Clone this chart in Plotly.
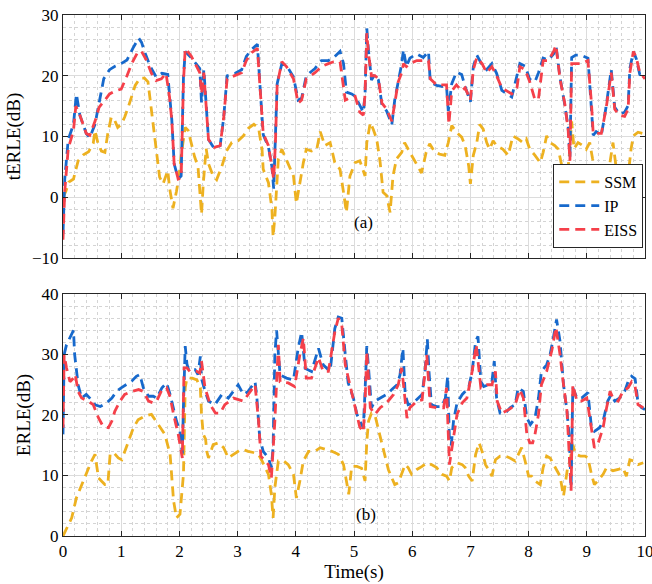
import plotly.graph_objects as go

# ---------------- data: top panel (tERLE) ----------------
t_ip_t = [0,0.03,0.09,0.18,0.23,0.29,0.4,0.46,0.55,0.64,0.7,0.8,0.9,1.0,1.1,1.2,1.3,1.35,1.4,1.5,1.6,1.7,1.8,1.87,1.91,1.98,2.03,2.07,2.1,2.2,2.3,2.35,2.38,2.42,2.5,2.6,2.7,2.76,2.82,2.96,3.07,3.15,3.24,3.34,3.38,3.44,3.53,3.59,3.62,3.65,3.68,3.76,3.84,3.96,4.04,4.1,4.18,4.33,4.44,4.56,4.65,4.76,4.82,4.87,4.96,5.02,5.1,5.16,5.19,5.22,5.25,5.28,5.3,5.36,5.42,5.48,5.56,5.65,5.7,5.76,5.82,5.85,5.9,5.96,6.08,6.19,6.28,6.31,6.42,6.54,6.59,6.62,6.68,6.76,6.85,6.91,7.0,7.05,7.11,7.2,7.28,7.37,7.45,7.54,7.71,7.85,7.94,8.02,8.11,8.17,8.25,8.34,8.43,8.47,8.54,8.62,8.68,8.71,8.74,8.81,8.9,9.02,9.08,9.11,9.16,9.25,9.33,9.42,9.48,9.56,9.65,9.71,9.74,9.8,9.85,9.91,10]
t_ip_v = [-6,3,9.5,12,17,13.5,10.5,9.8,12,16.5,19.5,21,21.6,22,22.6,24.5,26.2,25.5,24,21.5,19.8,20.4,20.2,12.7,5.5,3,3.5,19.8,24,23,21.8,21.2,15.6,21,9.5,8,8.5,13,20,20.4,21,23.2,24.3,25.2,19,10.3,8.3,5,1.4,8.6,18.7,22,21.7,19.8,16,16.3,20,21.2,22.5,22.5,23,24,22,17.3,17,16.6,15,14,17,27.8,24,21.6,19.3,20.2,19.3,15.2,14.2,12,16,19,22,24.3,21.5,22.9,23.6,23,24,19,18.4,18.2,18.2,14.2,18.7,20.6,20.2,18.2,15.7,21.5,23.4,21.8,21,22,20.4,17.6,16.5,22,21.6,19.4,19,20.5,22.9,22.6,23.6,25,19.7,15.3,11.5,6.5,23,23.4,23.4,22.9,15.3,10.2,10.8,10.2,14.8,21,14.8,13.7,14,15.1,21.2,24,22.8,20.2,19.6]

t_eiss_t = [0,0.03,0.09,0.18,0.22,0.29,0.4,0.46,0.55,0.62,0.72,0.8,0.9,1.0,1.1,1.18,1.29,1.35,1.43,1.52,1.6,1.69,1.77,1.83,1.87,1.91,1.98,2.03,2.07,2.1,2.2,2.3,2.35,2.38,2.42,2.5,2.6,2.7,2.76,2.82,2.96,3.07,3.15,3.24,3.34,3.38,3.44,3.53,3.59,3.62,3.65,3.68,3.76,3.84,3.96,4.04,4.1,4.18,4.33,4.44,4.56,4.65,4.76,4.85,4.96,5.02,5.1,5.16,5.19,5.22,5.25,5.28,5.3,5.36,5.42,5.48,5.56,5.65,5.7,5.76,5.82,5.85,5.9,5.96,6.08,6.19,6.28,6.31,6.42,6.54,6.59,6.63,6.68,6.76,6.85,6.91,7.0,7.05,7.11,7.2,7.28,7.37,7.45,7.54,7.71,7.8,7.85,7.94,8.02,8.11,8.17,8.25,8.34,8.43,8.47,8.54,8.62,8.68,8.71,8.74,8.81,8.9,9.02,9.08,9.11,9.16,9.25,9.33,9.42,9.48,9.56,9.65,9.71,9.74,9.8,9.85,9.91,10]
t_eiss_v = [-7,1,8,11,15,13.5,10.5,10.2,12.5,14.8,16,17,17.5,17.8,20,22,24,24,22.6,20.4,19.2,19.5,20.4,16.5,12.6,5.5,3,3.2,19,24.5,23.3,21.5,20.5,17,20.5,9.5,8.2,8.5,13,19.5,20,20.5,22.5,23.8,24.5,19,10.5,8.5,4.5,3,9,18.5,22.3,21.5,19.5,15.5,16,19.5,20.5,21.5,22,22.3,22.3,16,16.5,16.6,14,13.5,17,27,23.5,21,20,20,19.5,15.5,14.5,12.5,15.5,19,20.5,22,21.5,22,22.5,22.5,22.5,19.5,18.5,18.5,18.5,12,17.5,18.5,17.5,18,16,21,23,22,20.5,21.5,20,18,17,18,21.5,21,19,16,16.2,22.5,22.5,24,25,19.5,15.5,11,6,22,22,22,22.5,15.5,10.5,10.5,10.5,14.5,20.5,14.5,13.5,13.3,14.5,20.5,24,23,20.5,19.5]

t_ssm_t = [0,0.05,0.1,0.18,0.26,0.35,0.44,0.52,0.55,0.6,0.66,0.72,0.77,0.83,0.89,0.94,1.0,1.06,1.12,1.18,1.24,1.32,1.4,1.46,1.49,1.55,1.6,1.66,1.72,1.77,1.8,1.83,1.89,1.95,1.99,2.04,2.1,2.15,2.2,2.26,2.32,2.35,2.38,2.41,2.46,2.5,2.58,2.64,2.73,2.81,2.9,3.01,3.1,3.19,3.28,3.36,3.42,3.44,3.53,3.59,3.61,3.64,3.7,3.76,3.81,3.87,3.96,4.01,4.07,4.13,4.18,4.27,4.36,4.42,4.5,4.59,4.67,4.76,4.82,4.87,4.93,5.02,5.1,5.19,5.22,5.28,5.33,5.39,5.45,5.5,5.56,5.62,5.67,5.73,5.82,5.87,5.96,6.04,6.16,6.24,6.3,6.39,6.47,6.56,6.62,6.68,6.76,6.85,6.91,6.97,7.0,7.05,7.11,7.16,7.22,7.28,7.33,7.39,7.45,7.56,7.65,7.73,7.82,7.9,7.96,8.02,8.11,8.2,8.25,8.31,8.37,8.45,8.51,8.57,8.62,8.66,8.7,8.74,8.78,8.85,8.93,8.99,9.05,9.1,9.13,9.19,9.25,9.33,9.39,9.45,9.5,9.56,9.65,9.71,9.76,9.8,9.88,10]
t_ssm_v = [0,1,2.5,3,6,7,7.5,8.9,11,8.9,7.6,7.4,10.5,13.2,12.6,11.5,12,13.2,14.8,16.5,18.4,19.6,19.6,19,16.5,12,7.6,3.3,2.2,3.8,4.4,1.6,-1.8,1,3.3,7.6,11.5,11,8.9,6.7,5,1,-2.8,2.2,8,5.5,3.5,2.9,5.1,7.6,9,9.3,10.1,11.4,12,11.4,7.9,4.6,2.4,-2,-6.5,-3.3,6.3,7.9,6.8,5.2,3.5,-1,2.4,5.7,7.9,7.6,7.9,10.8,8.5,9,5.7,4.6,0.8,-2.5,3.5,5.7,6,3.5,9,12.3,11.2,9.6,5.7,0.8,0.3,-2.5,3.5,6.3,7.4,9,7.4,6,4,7.4,8.8,7.4,7.1,6.9,9,11.8,10.7,9.9,8.5,5.2,2.2,6.9,9,12,11.2,9,7.9,9.3,8.5,7.9,6.9,10.1,9.6,9,9.6,7.9,6.9,5.7,7.4,10.1,9,8.5,7.9,5.2,3.5,3,7,12.5,8,9,8.5,7.9,9,6.3,5.2,2.9,1.8,2.4,5.2,9,5.2,2.9,2.4,3.5,7.9,10.1,10.7,10.4]

# ---------------- data: bottom panel (ERLE) ----------------
b_ip_t = [0,0.02,0.06,0.12,0.18,0.2,0.23,0.26,0.32,0.4,0.46,0.55,0.64,0.75,0.84,0.92,1.0,1.09,1.18,1.26,1.32,1.38,1.47,1.55,1.61,1.7,1.78,1.84,1.9,1.95,2.01,2.05,2.07,2.1,2.13,2.16,2.27,2.32,2.36,2.38,2.44,2.5,2.61,2.73,2.84,3.01,3.1,3.18,3.3,3.33,3.38,3.44,3.53,3.58,3.61,3.64,3.67,3.73,3.84,3.96,4.04,4.1,4.16,4.27,4.39,4.47,4.59,4.67,4.73,4.79,4.85,4.9,4.99,5.05,5.1,5.16,5.19,5.22,5.25,5.28,5.3,5.36,5.45,5.56,5.65,5.74,5.79,5.84,5.88,5.93,6.02,6.11,6.17,6.22,6.26,6.29,6.33,6.42,6.51,6.57,6.61,6.64,6.67,6.71,6.77,6.86,6.91,6.97,7.03,7.09,7.13,7.18,7.23,7.31,7.37,7.41,7.45,7.51,7.6,7.68,7.77,7.82,7.91,7.97,8.03,8.11,8.17,8.22,8.31,8.37,8.43,8.48,8.54,8.6,8.66,8.7,8.73,8.76,8.83,8.91,9.02,9.08,9.13,9.22,9.28,9.36,9.42,9.48,9.56,9.65,9.71,9.77,9.83,9.88,9.94,10]
b_ip_v = [16.8,30,31.6,32.7,34,30,27.2,25,22.8,23.4,22.8,21.7,21.4,22,22.8,23.9,24.5,25,25.6,26.4,26.7,24.5,23.1,23.1,22.8,24.5,25.3,23.4,21.2,19,17.3,13.6,21.7,31.4,28.4,27.4,27.5,26.7,29.7,26,24,22.3,21.7,23.4,22.8,25,23.4,23.9,25.5,23,16.2,14,12.9,11.3,14.6,30,34,26.6,26.1,25.8,31,33.7,27.7,27.2,31,28.3,27.2,34.3,36.2,36,30,25.3,22.8,20.1,19,17.9,24,31.4,27.8,23.4,21.2,22.3,22.8,23.4,24.2,25,26.6,31,23.4,21.7,22,22.8,23.4,27.2,32.5,27,21.7,21.4,21.4,22.8,26.4,15.6,15,19,22,23.4,23.9,24.5,27.2,32.2,33,25.5,24.7,25,25.5,28.9,22.8,20.3,20.3,21.2,21.7,24.5,23.9,19.5,18.4,19.5,22.8,27.2,28.3,30,33,35.8,32.2,25,20.6,16.2,8,24.5,22.8,22.8,23.7,17.9,17.3,17.9,19,22.3,23.4,22.3,22.8,23.9,25.5,26.4,26,22,21.2,20.9]

b_eiss_t = [0,0.02,0.06,0.12,0.18,0.21,0.26,0.32,0.43,0.52,0.61,0.69,0.78,0.84,0.89,0.98,1.06,1.18,1.3,1.38,1.47,1.55,1.61,1.7,1.78,1.84,1.9,1.98,2.05,2.08,2.13,2.18,2.3,2.35,2.38,2.44,2.53,2.62,2.7,2.78,2.93,3.1,3.3,3.36,3.4,3.53,3.58,3.64,3.7,3.73,3.87,3.98,4.07,4.13,4.18,4.27,4.39,4.47,4.56,4.67,4.73,4.79,4.85,4.96,5.05,5.1,5.16,5.19,5.22,5.25,5.28,5.36,5.45,5.56,5.68,5.76,5.82,5.88,5.91,5.96,6.08,6.17,6.25,6.31,6.42,6.54,6.59,6.64,6.71,6.77,6.86,6.94,7.03,7.1,7.18,7.29,7.37,7.43,7.46,7.54,7.68,7.77,7.85,7.91,7.97,8.02,8.07,8.11,8.17,8.22,8.31,8.4,8.47,8.54,8.6,8.66,8.73,8.76,8.83,8.91,9.0,9.08,9.13,9.19,9.28,9.34,9.4,9.45,9.54,9.62,9.71,9.77,9.83,9.88,9.97]
b_eiss_v = [17.9,30,27.8,25.5,26.1,26.7,23.9,22.8,22.3,21.7,19.5,18.1,17.9,19,20.6,22.3,23.4,23.9,24.2,23.9,22.3,22,22.3,24.2,24.5,23,20.1,16.8,12.9,27.8,27.8,27.2,27.2,26.9,28.9,24.5,21.7,20.3,20.3,21.7,22.8,22.3,25,19,13.2,11.8,9.6,19,31.6,25.5,25.3,24.7,30,32.7,26.1,26.1,29.5,27.2,27.2,33.7,36,34.9,28.3,24,20,18,17.2,22,30.5,26,21.2,20.1,21.2,22,23.4,25,27.8,22.3,19.5,21.2,22.3,22.5,30,21.4,21.2,21.2,24.5,11.8,16.2,20.1,22,22.8,27.2,31.6,24.5,25,25,27.2,22.3,20.3,21,21.7,24.2,22.8,16.8,15.4,15.4,16.8,20.1,25,27.2,30.7,34.5,30,25,20.6,7.5,25,22.3,22.3,22.8,17.9,14.6,15.2,17.9,21.2,23.9,22.8,22.3,23.9,24.5,25.5,24.7,21.7,21.2]

b_ssm_t = [0,0.06,0.15,0.23,0.32,0.4,0.49,0.55,0.58,0.61,0.66,0.72,0.77,0.81,0.87,0.95,1.01,1.06,1.12,1.21,1.29,1.4,1.52,1.58,1.66,1.75,1.84,1.87,1.9,1.95,2.01,2.07,2.1,2.13,2.22,2.3,2.36,2.38,2.41,2.45,2.47,2.5,2.58,2.67,2.76,2.84,2.93,3.01,3.1,3.18,3.27,3.36,3.42,3.47,3.53,3.58,3.61,3.64,3.7,3.79,3.87,3.96,3.99,4.01,4.07,4.13,4.22,4.33,4.42,4.53,4.62,4.73,4.82,4.87,4.91,4.96,5.05,5.13,5.19,5.22,5.25,5.3,5.36,5.42,5.48,5.53,5.59,5.65,5.7,5.76,5.82,5.88,5.93,5.99,6.08,6.17,6.25,6.33,6.42,6.51,6.59,6.64,6.68,6.77,6.86,6.91,6.97,7.03,7.09,7.15,7.2,7.26,7.31,7.37,7.43,7.51,7.6,7.68,7.77,7.82,7.88,7.94,8.0,8.05,8.11,8.2,8.25,8.31,8.37,8.43,8.48,8.54,8.6,8.64,8.67,8.71,8.76,8.81,8.89,8.97,9.02,9.08,9.13,9.19,9.28,9.34,9.45,9.54,9.62,9.68,9.74,9.8,9.88,9.97]
b_ssm_v = [0,1.3,3,6.3,8.5,10.2,12.4,13.5,11.3,9.6,9.1,8.5,8.5,13.5,13.8,12.9,12.6,14,15.6,17.9,19.2,19.8,20.1,19.2,18.1,16.8,13.5,9.1,5.8,3,3.6,10.2,24.5,26.1,26.1,25.8,24.5,20.1,16.8,16,14,12.9,15.1,15.4,14.6,12.9,13.5,14,14.3,14,13.8,13.5,12.4,11.3,10.2,6.9,3,8,12.4,12.4,11.8,10.2,8,6.3,9.1,12.4,14,14,14.6,14.3,14,13.5,11.8,9.1,6.9,11.5,11.5,11.2,9.1,15.6,19,20.3,20,17.6,15.4,13.2,11,9.6,8.5,8.8,10.2,11.8,11.3,10.2,11,11.5,12.1,11.8,11.3,10.2,9.9,9.1,11.3,12.1,11.8,11.3,9.9,9.1,13.5,15.4,14,11.8,11,9.9,12.6,13.2,13.2,12.9,12.4,13.5,14.6,12.4,9.9,9.9,9.1,8.5,11.3,13.2,12.9,11.8,11,9.9,6.6,9.1,11.3,12.4,15.1,13.5,13.2,13.2,12.9,10.2,8.5,9.1,10.2,11.3,10.8,11,11.3,9.9,12.6,12.4,11.8,12.1]

names = ["SSM", "IP", "EISS"]
colors = ["#EDB120", "#1769CC", "#F5404A"]
x_ticks = [0, 1, 2, 3, 4, 5, 6, 7, 8, 9, 10]
top_yticks = [-10, 0, 10, 20, 30]
bot_yticks = [0, 10, 20, 30, 40]

FONT = "Liberation Serif"
DASH = "10px,6px"
LW = 2.8

fig = go.Figure()
top_series = [(t_ssm_t, t_ssm_v), (t_ip_t, t_ip_v), (t_eiss_t, t_eiss_v)]
bot_series = [(b_ssm_t, b_ssm_v), (b_ip_t, b_ip_v), (b_eiss_t, b_eiss_v)]
for i, (tx, ty) in enumerate(top_series):
    fig.add_trace(go.Scatter(x=tx, y=ty, mode="lines", name=names[i],
                             line=dict(color=colors[i], width=LW, dash=DASH),
                             xaxis="x", yaxis="y", showlegend=True))
for i, (tx, ty) in enumerate(bot_series):
    fig.add_trace(go.Scatter(x=tx, y=ty, mode="lines", name=names[i],
                             line=dict(color=colors[i], width=LW, dash=DASH),
                             xaxis="x2", yaxis="y2", showlegend=False))

axcol = "#262626"
grid_major = "#dcdcdc"
grid_minor = "#d4d4d4"

def xax(anchor, labels):
    return dict(range=[0, 10], tickvals=x_ticks, showticklabels=labels,
                ticks="inside", ticklen=5, tickcolor=axcol, tickwidth=1,
                showline=True, linecolor=axcol, linewidth=1, mirror="ticks",
                showgrid=True, gridcolor=grid_major, gridwidth=1,
                minor=dict(dtick=0.2, showgrid=True, gridcolor=grid_minor,
                           griddash="dot", gridwidth=1),
                zeroline=False, anchor=anchor, ticklabeloverflow="allow",
                automargin=False,
                tickfont=dict(family=FONT, size=17, color="#000"))

def yax(rng, vals, dom, anchor):
    return dict(range=rng, tickvals=vals, domain=dom,
                ticks="inside", ticklen=5, tickcolor=axcol, tickwidth=1,
                showline=True, linecolor=axcol, linewidth=1, mirror="ticks",
                showgrid=True, gridcolor=grid_major, gridwidth=1,
                minor=dict(dtick=2, showgrid=True, gridcolor=grid_minor,
                           griddash="dot", gridwidth=1),
                zeroline=False, anchor=anchor, automargin=False,
                tickfont=dict(family=FONT, size=17, color="#000"))

fig.update_layout(
    width=652, height=584,
    margin=dict(l=63, r=7, t=15, b=48, autoexpand=False),
    paper_bgcolor="white", plot_bgcolor="white",
    font=dict(family=FONT, size=17, color="#000"),
    xaxis=xax("y", False),
    yaxis=yax([-10, 30], top_yticks, [0.5336, 1.0], "x"),
    xaxis2=xax("y2", True),
    yaxis2=yax([0, 40], bot_yticks, [0.0, 0.4645], "x2"),
    legend=dict(x=0.997, y=0.553, xanchor="right", yanchor="bottom",
                bgcolor="white", bordercolor=axcol, borderwidth=1,
                font=dict(family=FONT, size=16, color="#000"),
                itemwidth=40, tracegroupgap=0),
    showlegend=True,
)
fig.update_layout(
    xaxis2_title=dict(text="Time(s)", font=dict(family=FONT, size=19), standoff=2),
    yaxis_title=dict(text="tERLE(dB)", font=dict(family=FONT, size=19), standoff=6),
    yaxis2_title=dict(text="ERLE(dB)", font=dict(family=FONT, size=19), standoff=5),
)
fig.add_annotation(x=5.17, y=-4.2, xref="x", yref="y", text="(a)", showarrow=False,
                   font=dict(family=FONT, size=17, color="#000"))
fig.add_annotation(x=5.2, y=3.6, xref="x2", yref="y2", text="(b)", showarrow=False,
                   font=dict(family=FONT, size=17, color="#000"))

fig.write_html("out.html", config={"displayModeBar": False},
               post_script="document.body.style.margin='0';document.body.style.overflow='hidden';")
